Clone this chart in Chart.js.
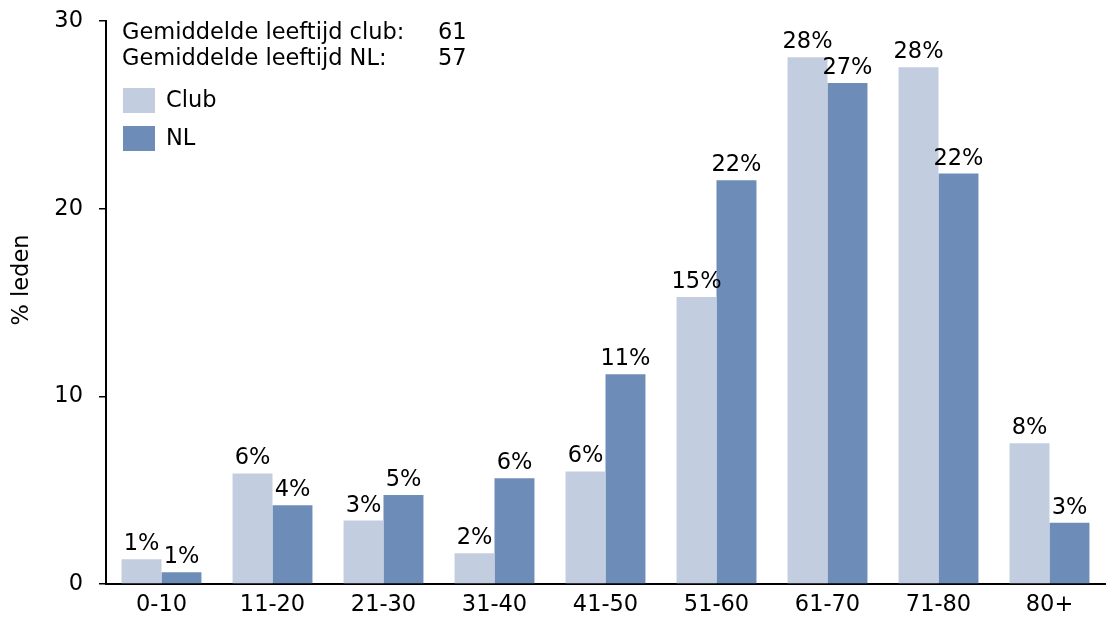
<!DOCTYPE html>
<html>
<head>
<meta charset="utf-8">
<script src="https://cdn.jsdelivr.net/npm/chart.js@4"></script>
<style>
  html, body { margin: 0; padding: 0; background: #fff; }
  #wrap { width: 1107px; height: 619px; }
</style>
</head>
<body>
<div id="wrap"><canvas id="ages"></canvas></div>
<script>
// Leeftijdsopbouw: percentage leden per leeftijdsgroep
const ageGroups = ['0-10', '11-20', '21-30', '31-40', '41-50', '51-60', '61-70', '71-80', '80+'];
const clubPct = [1.32, 5.89, 3.38, 1.64, 6.0, 15.29, 28.07, 27.54, 7.5];
const nlPct = [0.63, 4.19, 4.74, 5.63, 11.18, 21.52, 26.69, 21.87, 3.27];
const yTicks = [0, 10, 20, 30];
const avgLines = [
  ['Gemiddelde leeftijd club:', '61'],
  ['Gemiddelde leeftijd NL:', '57']
];

const FONT = '"DejaVu Sans", Verdana, sans-serif';
const SIZE = 22.5;
const CLUB_COLOR = '#C3CDE0';
const NL_COLOR = '#6E8CB8';

// percentage labels above each bar
const barLabels = {
  id: 'barLabels',
  afterDatasetsDraw(chart) {
    const ctx = chart.ctx;
    ctx.save();
    ctx.font = SIZE + 'px ' + FONT;
    ctx.fillStyle = '#000';
    ctx.textAlign = 'center';
    ctx.textBaseline = 'alphabetic';
    chart.data.datasets.forEach((ds, i) => {
      chart.getDatasetMeta(i).data.forEach((bar, j) => {
        ctx.fillText(Math.round(ds.data[j]) + '%', bar.x, bar.y - 9);
      });
    });
    ctx.restore();
  }
};

// averages, legend boxes and the y-axis title
const extras = {
  id: 'extras',
  afterDraw(chart) {
    const ctx = chart.ctx;
    ctx.save();
    ctx.font = SIZE + 'px ' + FONT;
    ctx.fillStyle = '#000';
    ctx.textBaseline = 'middle';
    avgLines.forEach((l, i) => {
      ctx.fillText(l[0], 122, 33 + i * 26);
      ctx.fillText(l[1], 438, 33 + i * 26);
    });
    chart.data.datasets.forEach((ds, i) => {
      const y = 88 + i * 38;
      ctx.fillStyle = ds.backgroundColor;
      ctx.fillRect(123, y, 32, 25);
      ctx.fillStyle = '#000';
      ctx.fillText(ds.label, 166, y + 13);
    });
    ctx.translate(22, 280);
    ctx.rotate(-Math.PI / 2);
    ctx.textAlign = 'center';
    ctx.fillText('% leden', 0, 0);
    ctx.restore();
  }
};

new Chart(document.getElementById('ages'), {
  type: 'bar',
  data: {
    labels: ageGroups,
    datasets: [
      { label: 'Club', data: clubPct, backgroundColor: CLUB_COLOR },
      { label: 'NL', data: nlPct, backgroundColor: NL_COLOR }
    ]
  },
  options: {
    responsive: true,
    maintainAspectRatio: false,
    animation: false,
    layout: { padding: { left: 0, right: 2, top: 21, bottom: 0 } },
    plugins: {
      legend: { display: false },
      tooltip: { enabled: false }
    },
    datasets: {
      bar: { categoryPercentage: 0.72, barPercentage: 1.0 }
    },
    scales: {
      x: {
        grid: { display: false, drawTicks: false },
        border: { display: true, color: '#000', width: 2 },
        ticks: { color: '#000', font: { family: FONT, size: SIZE }, padding: 8, maxRotation: 0 },
        afterFit(scale) {
          scale.height = 35;
          scale.paddingLeft = 0;
          scale.paddingRight = 0;
        }
      },
      y: {
        min: 0,
        max: 30,
        afterBuildTicks(scale) { scale.ticks = yTicks.map(v => ({ value: v })); },
        grid: { display: true, drawOnChartArea: false, drawTicks: true, tickLength: 7, color: '#000', lineWidth: 1.5 },
        border: { display: true, color: '#000', width: 2 },
        ticks: { color: '#000', font: { family: FONT, size: SIZE }, padding: 16 },
        afterFit(scale) {
          scale.width = 106;
          scale.paddingTop = 0;
          scale.paddingBottom = 0;
        }
      }
    }
  },
  plugins: [barLabels, extras]
});
</script>
</body>
</html>
